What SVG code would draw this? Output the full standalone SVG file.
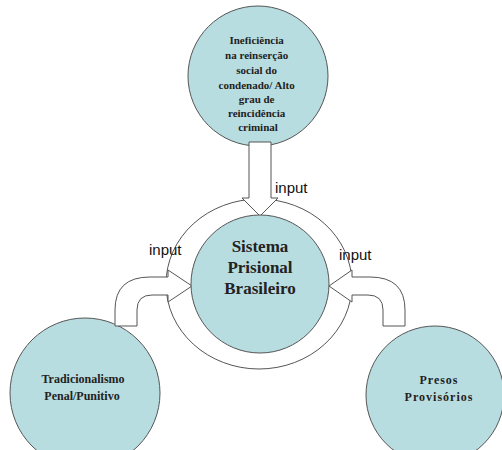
<svg xmlns="http://www.w3.org/2000/svg" width="502" height="450" viewBox="0 0 502 450">
<style>
.node{fill:#b8dde1;stroke:#555;stroke-width:1}
.ring{fill:#fff;stroke:#555;stroke-width:1}
.arrow{fill:#fff;stroke:#555;stroke-width:1;stroke-linejoin:miter}
.t{font-family:"Liberation Serif","Times New Roman",serif;font-weight:bold;fill:#222;text-anchor:middle}
.lbl{font-family:"Liberation Sans",Arial,sans-serif;font-size:15px;fill:#111}
</style>
<rect width="502" height="450" fill="#fff"/>
<g id="ring"><ellipse class="ring" cx="259" cy="284" rx="93" ry="85"/></g>
<g id="top">
<circle class="node" cx="258" cy="76" r="70"/>
<text class="t" font-size="11" x="258">
<tspan x="258" y="44">Ineficiência</tspan>
<tspan x="258" y="59">na reinserção</tspan>
<tspan x="258" y="74">social do</tspan>
<tspan x="258" y="89">condenado/ Alto</tspan>
<tspan x="258" y="103">grau de</tspan>
<tspan x="258" y="117">reincidência</tspan>
<tspan x="258" y="131">criminal</tspan>
</text>
</g>
<g id="left">
<circle class="node" cx="85" cy="393" r="75"/>
<text class="t" font-size="12"><tspan x="83" y="383">Tradicionalismo</tspan><tspan x="82" y="400">Penal/Punitivo</tspan></text>
</g>
<g id="right">
<circle class="node" cx="435" cy="395" r="69"/>
<text class="t" font-size="12" letter-spacing="1"><tspan x="439" y="384">Presos</tspan><tspan x="439" y="401">Provisórios</tspan></text>
</g>
<g id="connectors">
<path class="arrow" d="M249,142 L271,142 L271,198 L278,198 L260,216 L242,198 L249,198 Z"/>
<path class="arrow" d="M115,326 L115,310 Q115,277 150,277 L168,277 L168,270 L192,286 L168,302 L168,295 L152,295 Q137,295 137,310 L137,326 Z"/>
<path class="arrow" d="M405,326 L405,310 Q405,277 370,277 L352,277 L352,270 L329,286 L352,302 L352,295 L368,295 Q383,295 383,310 L383,326 Z"/>
<text class="lbl" x="275" y="193">input</text>
<text class="lbl" x="149" y="255">input</text>
<text class="lbl" x="339" y="260">input</text>
</g>
<g id="center">
<circle class="node" cx="260" cy="284" r="69"/>
<text class="t" font-size="17"><tspan x="260" y="252">Sistema</tspan><tspan x="260" y="273">Prisional</tspan><tspan x="260" y="294">Brasileiro</tspan></text>
</g>
</svg>
